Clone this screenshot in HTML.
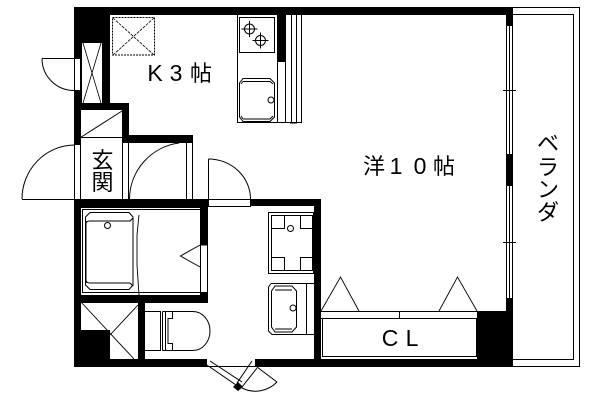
<!DOCTYPE html>
<html><head><meta charset="utf-8"><style>
html,body{margin:0;padding:0;background:#fff;width:600px;height:400px;overflow:hidden}
svg{display:block}
text{fill:#000}
.j{font-family:"Liberation Sans","Noto Sans CJK JP",sans-serif;font-size:22px;text-anchor:middle}
.l{font-family:"Liberation Sans",sans-serif;font-size:23px;text-anchor:middle}
</style></head><body>
<svg width="600" height="400" viewBox="0 0 600 400" xmlns="http://www.w3.org/2000/svg">
<rect width="600" height="400" fill="#fff"/>

<!-- thin geometry -->
<g fill="none" stroke="#000" stroke-width="1" shape-rendering="crispEdges">
<!-- balcony -->
<path d="M513 7.5H579.5V366.5H513M513 14.5H573.5V359.5H513"/>
<!-- window lines -->
<path d="M506.5 26V154M509.5 26V154M512.5 26V154M506.5 186V298M509.5 186V298M512.5 186V298"/>
<path d="M503 90.5H516M503 242.5H516"/>
<!-- kitchen counter -->
<path d="M237.5 15V122.5H301.5V15M277.5 62V122.5M285.5 15V122.5M291.5 15V122.5M296.5 15V122.5"/>
<rect x="239.5" y="17.5" width="35" height="35"/>
<!-- lobby -->
<path d="M80.5 110V199M122.5 110V199M128.5 143V199M186.5 143V199M192.5 143V199M74.5 145V199M80.5 137.5H122.5"/>
<path d="M22 199.5H321"/>
<!-- small door -->
<path d="M42 58.5H80M74.5 58V90M80.5 58V90"/>
<!-- door leaf at x208 -->
<path d="M208.5 159V199"/>
<path d="M208.5 199V206.5H250.5V199"/>
<!-- shoe closet -->
<path d="M81.5 43V103M102.5 43V103"/>
<!-- bath -->
<rect x="82.5" y="209.5" width="118" height="83"/>
<path d="M200.5 245H207.5V292"/>
<!-- washer -->
<rect x="268.5" y="212.5" width="45" height="61"/>
<rect x="271.5" y="215.5" width="41" height="55"/>
<rect x="271.5" y="215.5" width="13" height="13"/>
<rect x="300.5" y="215.5" width="12" height="13"/>
<rect x="271.5" y="257.5" width="13" height="13"/>
<rect x="300.5" y="257.5" width="12" height="13"/>
<path d="M306.5 283.5V334.5M306.5 283.5H314M306.5 334.5H314"/>
<!-- closet -->
<path d="M321 311.5H477M321 318.5H477M399.5 311V318M322.5 318V356.5H476.5V318"/>
<!-- toilet tank -->
<path d="M145 311.5H160.5V350.5H145M160.5 311.5V350.5M162.5 311.5V350.5M165.5 311.5V350.5"/>
<path d="M162.5 311.5H193M162.5 350.5H193M165.5 311.5H172.5V318.5H168V343.5H172.5V350.5H165.5"/>
<!-- front door sill -->
<path d="M207 366.5H255"/>
</g>

<!-- curves -->
<g fill="none" stroke="#000" stroke-width="1">
<path d="M42 58.5A32 32 0 0 0 74 90.5"/>
<path d="M74 145A53 54 0 0 0 22 199"/>
<path d="M179 143A57 57 0 0 0 129.5 199"/>
<path d="M208.5 159A42 40 0 0 1 250.5 199"/>
<!-- burners -->
<circle cx="249.5" cy="29" r="5"/><path d="M249.5 21V37M241.5 29H257.5"/>
<circle cx="260.5" cy="40.5" r="5"/><path d="M260.5 32.5V48.5M252.5 40.5H268.5"/>
<!-- sink -->
<path d="M243 78.5H270L274.5 83V117L270 121.5H243L239.5 117V83Z"/>
<path d="M243 81.5H270L273 84M243 119H270L273 116M241 84L243 81.5M241 116L243 119"/>
<circle cx="271" cy="100" r="3" fill="#fff"/>
<!-- skylight -->
<rect x="112.5" y="17.5" width="42" height="37.5" stroke-dasharray="2 1"/>
<path d="M113 18L154 55M154 18L113 55" stroke-dasharray="3 1" stroke-width=".8"/>
<!-- shoe closet X -->
<path d="M83 43L101 103M101 43L83 103" stroke-width=".8"/>
<!-- lobby diagonal -->
<path d="M80.5 137.5L122 111"/>
<!-- tub -->
<path d="M90 212.5H129L133 217V285L129 289.5H90L85.500 285V217Z"/>
<path d="M90 221H130L133 218M90 283H130L133 286M86 224Q86 221 90 221M86 280Q86 283 90 283M86 221V283"/>
<circle cx="107.5" cy="225.5" r="3"/>
<path d="M139 215L137 235V265L139 295" stroke-width=".9"/>
<path d="M200 245L180.5 256L200 267"/>
<!-- washer circle -->
<circle cx="290.5" cy="228.5" r="3"/>
<!-- basin -->
<path d="M271 283.5H314M314 334.5H272L268.5 331V287L271 283.5"/>
<path d="M275 286H292L296.5 291V327L292 332H275L271.5 327V291Z"/>
<path d="M275 290H292M275 329H292"/>
<circle cx="293" cy="308" r="3"/>
<!-- closet doors -->
<path d="M321 311L340.5 277L359 311M439 311L457.5 277L477 311" stroke-width=".9"/>
<!-- shower X -->
<path d="M81 302L134 359M138 305L110 335" stroke-width=".9"/>
<!-- toilet bowl -->
<path d="M193 311.5A17 19.5 0 0 1 193 350.5"/>
<!-- front door -->
<path d="M207 365L236 385M210 361L242 382M252 361L237 383M257 368L242 387M257 367L277 382M277 382A30 30 0 0 1 242 388"/>
</g>

<!-- walls -->
<g fill="#000" shape-rendering="crispEdges">
<rect x="74" y="7" width="439" height="8"/>
<rect x="74" y="7" width="36" height="36"/>
<rect x="74" y="43" width="7" height="15"/>
<rect x="102" y="43" width="8" height="60"/>
<rect x="74" y="90" width="7" height="55"/>
<rect x="74" y="103" width="55" height="7"/>
<rect x="122" y="110" width="7" height="33"/>
<rect x="122" y="135" width="71" height="8"/>
<rect x="277" y="15" width="8" height="47"/>
<rect x="506" y="15" width="7" height="11"/>
<rect x="506" y="154" width="7" height="32"/>
<rect x="506" y="298" width="7" height="14"/>
<rect x="477" y="311" width="36" height="56"/>
<rect x="74" y="199" width="134" height="9"/>
<rect x="250" y="199" width="71" height="7"/>
<rect x="74" y="199" width="7" height="168"/>
<rect x="200" y="199" width="8" height="46"/>
<rect x="200" y="292" width="8" height="11"/>
<rect x="74" y="295" width="134" height="8"/>
<rect x="138" y="303" width="7" height="57"/>
<rect x="81" y="330" width="29" height="30"/>
<rect x="314" y="199" width="7" height="168"/>
<rect x="74" y="359" width="133" height="8"/>
<rect x="255" y="359" width="258" height="8"/>
<rect x="290" y="122" width="7" height="1.5"/>
</g>
<path d="M238 382L243 387L238 391L233 387Z" fill="#000"/>

<!-- labels -->
<text class="l" x="155" y="81">K</text>
<text class="l" x="176" y="81">3</text>
<text class="j" x="201" y="81">帖</text>
<text class="j" x="374" y="174">洋</text>
<text class="l" x="396" y="174">1</text>
<text class="l" x="420" y="174">0</text>
<text class="j" x="444" y="174">帖</text>
<text class="j" x="102.5" y="168">玄</text>
<text class="j" x="102.5" y="190">関</text>
<text class="j" x="548" y="151">ベ</text>
<text class="j" x="548" y="175">ラ</text>
<text class="j" x="548" y="197">ン</text>
<text class="j" x="548" y="220">ダ</text>
<text class="l" x="390" y="346">C</text>
<text class="l" x="412" y="346">L</text>
</svg>
</body></html>
